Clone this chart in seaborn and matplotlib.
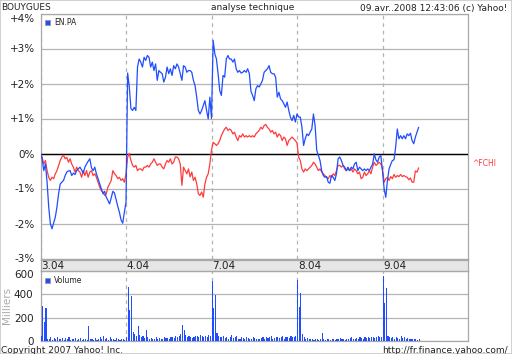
import numpy as np
import pandas as pd
import matplotlib
matplotlib.use("Agg")
import matplotlib.pyplot as plt
import seaborn as sns
from matplotlib.patches import Rectangle

# ---------------- data (percent change, 10-minute steps from 9:00) ----------------
day_labels = ["3.04", "4.04", "7.04", "8.04", "9.04"]

enpa_d1 = [0.0, -0.15, -0.49, -0.30, -0.82, -1.53, -2.01, -2.15, -1.99, -1.82, -1.53, -1.15, -0.87,
           -0.82, -0.77, -0.63, -0.53, -0.50, -0.49, -0.63, -0.56, -0.60, -0.49, -0.44, -0.39, -0.47,
           -0.56, -0.39, -0.30, -0.22, -0.15, -0.41, -0.49, -0.39, -0.58, -0.72, -0.87, -1.01, -1.15,
           -1.08, -1.25, -1.34, -1.44, -1.27, -1.08, -1.13, -1.32, -1.51, -1.68, -1.90, -1.99, -1.68]
enpa_d2 = [-1.40, 2.30, 1.90, 1.28, 1.23, 1.32, 1.23, 2.47, 2.70, 2.61, 2.47, 2.75, 2.66, 2.80, 2.75,
           2.47, 2.61, 2.37, 2.56, 2.09, 2.37, 2.32, 2.28, 2.04, 2.18, 2.47, 2.28, 2.42, 2.23, 2.51,
           2.42, 2.56, 2.47, 2.28, 2.09, 2.51, 2.47, 2.32, 2.37, 2.37, 2.32, 2.09, 1.94, 1.61, 1.23,
           1.13, 1.23, 1.37, 1.51, 1.23, 0.99, 1.61]
enpa_d3 = [1.00, 3.23, 2.85, 2.70, 2.28, 1.80, 1.66, 2.23, 2.18, 2.70, 2.80, 2.70, 2.70, 2.61, 2.70,
           2.42, 2.32, 2.37, 2.30, 2.32, 2.37, 2.32, 2.42, 2.28, 1.78, 1.66, 1.51, 1.85, 1.94, 1.90,
           1.99, 2.09, 2.32, 2.37, 2.42, 2.51, 2.32, 2.28, 2.28, 2.18, 1.61, 1.75, 1.56, 1.51, 1.42,
           1.32, 1.47, 1.23, 1.04, 0.94, 1.09, 0.90]
enpa_d4 = [1.13, 1.04, 1.04, 0.75, 0.23, 0.42, 0.56, 0.51, 0.61, 0.70, 1.13, 0.80, 0.09, -0.06, -0.20,
           -0.49, -0.63, -0.68, -0.66, -0.82, -0.85, -0.63, -0.68, -0.77, -0.58, -0.15, -0.10, -0.20,
           -0.34, -0.39, -0.49, -0.39, -0.49, -0.39, -0.44, -0.30, -0.25, -0.49, -0.39, -0.44, -0.49,
           -0.44, -0.49, -0.44, -0.49, -0.39, -0.30, -0.01, -0.18, -0.25, -0.10, -0.06]
enpa_d5 = [-0.50, -1.01, -1.25, -0.77, -0.44, -0.31, -0.20, -0.18, 0.18, 0.70, 0.42, 0.51, 0.42, 0.51,
           0.42, 0.56, 0.51, 0.58, 0.37, 0.28, 0.47, 0.61, 0.75]

fchi_d1 = [0.0, -0.11, -0.30, -0.20, -0.49, -0.68, -0.77, -0.68, -0.72, -0.58, -0.49, -0.34, -0.20,
           -0.10, -0.05, -0.15, -0.11, -0.25, -0.15, -0.30, -0.39, -0.53, -0.39, -0.49, -0.53, -0.68,
           -0.49, -0.63, -0.49, -0.68, -0.53, -0.49, -0.63, -0.58, -0.68, -0.82, -0.96, -1.06, -1.10,
           -1.20, -1.15, -0.96, -0.87, -0.77, -0.49, -0.58, -0.63, -0.72, -0.68, -0.77, -0.72, -0.82]
fchi_d2 = [-0.58, -0.10, 0.0, -0.20, -0.34, -0.39, -0.34, -0.49, -0.44, -0.44, -0.49, -0.39, -0.39,
           -0.34, -0.39, -0.30, -0.25, -0.15, -0.25, -0.34, -0.30, -0.30, -0.39, -0.44, -0.30, -0.20,
           -0.25, -0.15, -0.30, -0.25, -0.10, -0.10, -0.15, -0.30, -0.91, -0.39, -0.49, -0.58, -0.44,
           -0.67, -0.53, -0.77, -0.68, -0.86, -1.15, -1.20, -1.10, -1.25, -0.87, -0.68, -0.58, -0.30]
fchi_d3 = [0.10, 0.32, 0.28, 0.23, 0.28, 0.37, 0.51, 0.61, 0.70, 0.75, 0.66, 0.70, 0.66, 0.56, 0.61,
           0.47, 0.37, 0.51, 0.47, 0.56, 0.47, 0.51, 0.47, 0.51, 0.47, 0.51, 0.47, 0.56, 0.61, 0.66,
           0.75, 0.70, 0.80, 0.83, 0.75, 0.70, 0.61, 0.66, 0.56, 0.61, 0.47, 0.56, 0.51, 0.37, 0.47,
           0.42, 0.23, 0.37, 0.42, 0.47, 0.42, 0.37]
fchi_d4 = [0.30, -0.10, -0.20, -0.44, -0.53, -0.44, -0.49, -0.44, -0.39, -0.34, -0.25, -0.30, -0.39,
           -0.49, -0.44, -0.53, -0.58, -0.63, -0.68, -0.72, -0.63, -0.68, -0.58, -0.63, -0.49, -0.34,
           -0.34, -0.39, -0.34, -0.44, -0.49, -0.44, -0.49, -0.44, -0.53, -0.44, -0.49, -0.58, -0.53,
           -0.72, -0.68, -0.53, -0.63, -0.58, -0.49, -0.58, -0.39, -0.25, -0.34, -0.30, -0.25, -0.30]
fchi_d5 = [-0.45, -0.82, -0.72, -0.68, -0.77, -0.66, -0.72, -0.60, -0.68, -0.63, -0.66, -0.60, -0.66,
           -0.63, -0.66, -0.68, -0.75, -0.70, -0.82, -0.82, -0.50, -0.53, -0.41]

# volume, thousands
vol_d1 = [40, 300, 160, 280, 15, 20, 30, 12, 25, 18, 30, 15, 20, 25, 10, 22, 18, 30, 12, 20, 15, 25,
          10, 18, 22, 12, 20, 15, 10, 128, 15, 20, 10, 25, 12, 18, 30, 15, 40, 20, 25, 10, 30, 15,
          20, 12, 25, 18, 10, 15, 20, 12]
vol_d2 = [30, 460, 265, 380, 80, 60, 40, 125, 50, 30, 40, 25, 95, 30, 20, 25, 15, 20, 30, 18, 25,
          20, 15, 30, 22, 25, 20, 30, 35, 25, 40, 30, 45, 60, 140, 90, 50, 35, 40, 30, 25, 35, 40,
          45, 30, 50, 40, 35, 45, 30, 50, 40]
vol_d3 = [510, 280, 390, 70, 40, 35, 30, 45, 25, 30, 20, 35, 50, 25, 30, 40, 20, 15, 30, 25, 20,
          35, 25, 15, 20, 30, 25, 20, 15, 20, 25, 30, 20, 35, 25, 30, 40, 20, 25, 30, 35, 25, 30,
          40, 20, 35, 30, 25, 40, 30, 35, 45]
vol_d4 = [520, 290, 410, 60, 30, 20, 25, 15, 20, 15, 10, 15, 20, 10, 15, 70, 15, 10, 20, 15, 10,
          15, 20, 10, 15, 20, 25, 15, 20, 10, 15, 20, 25, 30, 20, 15, 25, 20, 30, 25, 20, 30, 25,
          35, 25, 30, 35, 25, 30, 40, 30, 35]
vol_d5 = [550, 320, 450, 40, 30, 25, 35, 20, 30, 25, 20, 40, 25, 30, 20, 25, 15, 20, 15, 20, 15,
          10, 20]

pct_ticks = [-3, -2, -1, 0, 1, 2, 3, 4]
pct_labels = ["-3%", "-2%", "-1%", "0%", "+1%", "+2%", "+3%", "+4%"]
vol_ticks = [0, 200, 400, 600]

STEPS_PER_DAY = 52

def build(days):
    t, v = [], []
    for d, vals in enumerate(days):
        for k, val in enumerate(vals):
            t.append(d + k / STEPS_PER_DAY)
            v.append(val)
    return np.array(t), np.array(v)

t_en, v_en = build([enpa_d1, enpa_d2, enpa_d3, enpa_d4, enpa_d5])
t_fc, v_fc = build([fchi_d1, fchi_d2, fchi_d3, fchi_d4, fchi_d5])
t_vo, v_vo = build([vol_d1, vol_d2, vol_d3, vol_d4, vol_d5])

df = pd.concat([
    pd.DataFrame({"t": t_fc, "pct": v_fc, "serie": "^FCHI"}),
    pd.DataFrame({"t": t_en, "pct": v_en, "serie": "EN.PA"}),
], ignore_index=True)

# ---------------- drawing ----------------
sns.set_theme(style="white")
plt.rcParams["font.family"] = ["DejaVu Sans"]

W, H = 512, 354
fig = plt.figure(figsize=(W / 100, H / 100), dpi=100)
fig.patch.set_facecolor("white")

def rect(x0, y0, x1, y1):
    return [x0 / W, 1 - y1 / H, (x1 - x0) / W, (y1 - y0) / H]

BLUE = "#1f4dff"
RED = "#ff3b3b"
GRID = "#b4b4b4"
FRAME = "#a8a8a8"
TXT = "#222222"

ax = fig.add_axes(rect(40.5, 13.5, 468, 258.5))
sns.lineplot(data=df, x="t", y="pct", hue="serie", hue_order=["^FCHI", "EN.PA"],
             palette={"EN.PA": BLUE, "^FCHI": RED}, ax=ax, legend=False, sort=False,
             estimator=None, linewidth=0.9, zorder=5)
ax.set_xlim(0, 5)
ax.set_ylim(-3, 4)
for yv in pct_ticks:
    ax.axhline(yv, color=GRID, lw=0.9, zorder=1)
ax.axhline(0, color="black", lw=1.0, zorder=3)
for d in range(len(day_labels)):
    ax.axvline(d, color=GRID, lw=0.9, ls=(0, (3, 3)), zorder=2)
ax.set_yticks(pct_ticks)
ax.set_yticklabels(pct_labels, fontsize=7.5, color=TXT)
ax.get_yticklabels()[-1].set_va("top")
ax.tick_params(axis="y", length=0, pad=4)
ax.set_xticks([])
ax.set_xlabel("")
ax.set_ylabel("")
for s in ax.spines.values():
    s.set_color(FRAME)
    s.set_linewidth(0.9)
# legend marker
ax.add_patch(Rectangle((0.0095, 0.953), 0.013, 0.022, transform=ax.transAxes,
                       facecolor=BLUE, edgecolor="#999999", lw=0.6, zorder=6, clip_on=False))
ax.text(0.031, 0.963, "EN.PA", transform=ax.transAxes, fontsize=5.5, color=TXT,
        va="center", ha="left")

# right side label
fig.text(472 / W, 1 - 164 / H, "^FCHI", color=RED, fontsize=5.5, ha="left", va="center")

# date band
axb = fig.add_axes(rect(40.5, 259.5, 468, 270.5))
axb.set_facecolor("#e6e6e6")
axb.set_xlim(0, 5)
axb.set_ylim(0, 1)
axb.set_xticks([])
axb.set_yticks([])
for s in axb.spines.values():
    s.set_color(FRAME)
    s.set_linewidth(0.9)
for d, lab in enumerate(day_labels):
    axb.text(d + 0.01, 0.45, lab, fontsize=7.5, color=TXT, ha="left", va="center")

# volume panel
axv = fig.add_axes(rect(40.5, 270.5, 468, 341))
axv.bar(t_vo, v_vo, width=0.013, align="edge", color=BLUE, linewidth=0, zorder=4)
axv.set_xlim(0, 5)
axv.set_ylim(0, 600)
for yv in vol_ticks:
    axv.axhline(yv, color=GRID, lw=0.9, zorder=1)
for d in range(len(day_labels)):
    axv.axvline(d, color=GRID, lw=0.9, ls=(0, (3, 3)), zorder=2)
axv.set_yticks(vol_ticks)
axv.set_yticklabels([str(v) for v in vol_ticks], fontsize=7.5, color=TXT)
axv.get_yticklabels()[-1].set_va("top")
axv.tick_params(axis="y", length=0, pad=5)
axv.set_xticks([])
for s in axv.spines.values():
    s.set_color(FRAME)
    s.set_linewidth(0.9)
axv.add_patch(Rectangle((0.0095, 0.82), 0.013, 0.08, transform=axv.transAxes,
                        facecolor=BLUE, edgecolor="#999999", lw=0.6, zorder=6))
axv.text(0.031, 0.86, "Volume", transform=axv.transAxes, fontsize=5.5, color=TXT,
         va="center", ha="left")
fig.text(7 / W, 1 - 305 / H, "Milliers", rotation=90, color="#aaaaaa", fontsize=7.5,
         ha="center", va="center")

# header / footer texts
fig.text(1 / W, 1 - 7 / H, "BOUYGUES", fontsize=6.5, color=TXT, ha="left", va="center")
fig.text(253 / W, 1 - 8 / H, "analyse technique", fontsize=6.5, color=TXT, ha="center", va="center")
fig.text(507 / W, 1 - 8 / H, "09.avr..2008 12:43:06 (c) Yahoo!", fontsize=6.5, color=TXT,
         ha="right", va="center")
fig.text(1 / W, 1 - 346 / H, "Copyright 2007 Yahoo! Inc.", fontsize=6.5, color=TXT,
         ha="left", va="top")
fig.text(508 / W, 1 - 346 / H, "http://fr.finance.yahoo.com/", fontsize=6.5, color=TXT,
         ha="right", va="top")

# outer border
fig.patches.append(Rectangle((0, 0), 1, 1, transform=fig.transFigure, fill=False,
                             edgecolor="#c8c8c8", lw=1.2))

fig.savefig("out.png", dpi=100)
